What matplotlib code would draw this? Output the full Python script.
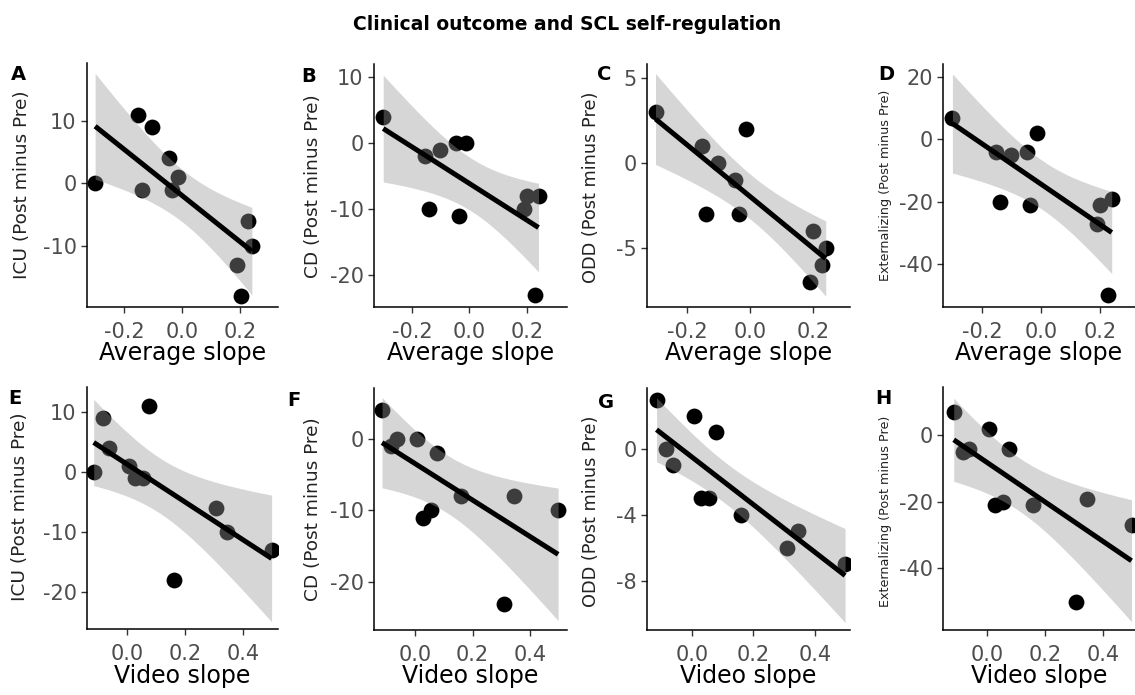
import numpy as np
import matplotlib
matplotlib.use("Agg")
import matplotlib.pyplot as plt

plt.rcParams["font.family"] = ["DejaVu Sans"]
plt.rcParams["axes.unicode_minus"] = False

# ---------------- data (11 participants) ----------------
avg_slope   = [-0.300, -0.153, -0.140, -0.103, -0.047, -0.036, -0.013, 0.190, 0.201, 0.228, 0.240]
video_slope = [-0.115, 0.077, 0.054, -0.084, -0.062, 0.028, 0.006, 0.498, 0.160, 0.308, 0.346]
icu = [0, 11, -1, 9, 4, -1, 1, -13, -18, -6, -10]
cd  = [4, -2, -10, -1, 0, -11, 0, -10, -8, -23, -8]
odd = [3, 1, -3, 0, -1, -3, 2, -7, -4, -6, -5]
ext = [7, -4, -20, -5, -4, -21, 2, -27, -21, -50, -19]

panel_letters = ["A", "B", "C", "D", "E", "F", "G", "H"]
outcome_names = ["ICU", "CD", "ODD", "Externalizing"]
outcomes = [icu, cd, odd, ext]
x_titles = ["Average slope", "Video slope"]
x_ticks = [[-0.2, 0.0, 0.2], [0.0, 0.2, 0.4]]
y_ticks = [[-10, 0, 10], [-20, -10, 0, 10], [-5, 0, 5], [-40, -20, 0, 20],
           [-20, -10, 0, 10], [-20, -10, 0], [-8, -4, 0], [-40, -20, 0]]
x_lims = [(-0.328, 0.330), (-0.332, 0.339), (-0.327, 0.317), (-0.332, 0.319),
          (-0.138, 0.520), (-0.143, 0.529), (-0.146, 0.514), (-0.152, 0.510)]
y_lims = [(-19.8, 19.3), (-24.8, 12.0), (-8.5, 5.8), (-53.8, 24.2),
          (-26.2, 14.2), (-26.7, 7.1), (-11.0, 3.7), (-58.5, 14.5)]
T975_DF9 = 2.262  # t quantile for 95% CI with n-2 = 9 df

# ---------------- layout (pixels) ----------------
W, H = 1135, 695
fig = plt.figure(figsize=(W / 100, H / 100), dpi=100)

boxes = [(87, 278, 63, 307), (374, 567, 64, 307), (647, 850, 64, 307), (943, 1135, 64, 307),
         (87, 278, 387, 629), (374, 567, 388, 630), (647, 850, 388, 630), (943, 1135, 387, 630)]
letter_pos = [(18, 75), (309, 76), (604, 74), (886, 75),
              (15, 399), (294, 401), (606, 402), (883, 399)]
ylabel_pos = [(22, 185), (313, 186), (591, 187), (886, 185),
              (20, 507), (313, 509), (591, 511), (886, 511)]
ylabel_size = [13.3, 13.3, 12.8, 9.2, 13.3, 13.3, 12.8, 9.2]
xlabel_base = [360, 683]

def fx(px):
    return px / W

def fy(py):
    return 1 - py / H

for i in range(8):
    row, col = divmod(i, 4)
    xs = np.array(avg_slope if row == 0 else video_slope, dtype=float)
    ys = np.array(outcomes[col], dtype=float)
    l, r, t, b = boxes[i]
    ax = fig.add_axes([fx(l), fy(b), (r - l) / W, (b - t) / H])

    ax.scatter(xs, ys, s=130, color="black", zorder=1, linewidths=0)

    # linear fit with 95% confidence band
    n = len(xs)
    slope, intercept = np.polyfit(xs, ys, 1)
    resid = ys - (slope * xs + intercept)
    s_err = np.sqrt(np.sum(resid ** 2) / (n - 2))
    sxx = np.sum((xs - xs.mean()) ** 2)
    xg = np.linspace(xs.min(), xs.max(), 100)
    yg = slope * xg + intercept
    se = s_err * np.sqrt(1 / n + (xg - xs.mean()) ** 2 / sxx)
    ax.fill_between(xg, yg - T975_DF9 * se, yg + T975_DF9 * se,
                    color="#999999", alpha=0.4, linewidth=0, zorder=2)
    ax.plot(xg, yg, color="black", lw=3.6, zorder=3, solid_capstyle="butt")

    ax.set_xlim(*x_lims[i])
    ax.set_ylim(*y_lims[i])
    ax.set_xticks(x_ticks[row])
    ax.set_xticklabels([f"{v:.1f}" for v in x_ticks[row]])
    ax.set_yticks(y_ticks[i])
    ax.set_yticklabels([str(v) for v in y_ticks[i]])

    for sp in ["top", "right"]:
        ax.spines[sp].set_visible(False)
    for sp in ["left", "bottom"]:
        ax.spines[sp].set_linewidth(1.1)
        ax.spines[sp].set_color("black")
    ax.tick_params(axis="both", direction="out", length=4, width=1.0,
                   color="#333333", labelcolor="#4D4D4D", labelsize=15)
    ax.tick_params(axis="x", pad=7)
    ax.tick_params(axis="y", pad=3.5)

    # panel letter
    lx, ly = letter_pos[i]
    fig.text(fx(lx), fy(ly), panel_letters[i], fontsize=14, fontweight="bold",
             ha="center", va="center")
    # y label
    yx, yy = ylabel_pos[i]
    fig.text(fx(yx), fy(yy), f"{outcome_names[col]} (Post minus Pre)", rotation=90,
             fontsize=ylabel_size[i], color="#222222", ha="center", va="center")
    # x label
    fig.text(fx((l + r) / 2), fy(xlabel_base[row]), x_titles[row], fontsize=17,
             color="black", ha="center", va="baseline")

fig.text(fx(567), fy(30), "Clinical outcome and SCL self-regulation", fontsize=13.5,
         fontweight="bold", ha="center", va="baseline")

fig.savefig("out.png", dpi=100, facecolor="white")
